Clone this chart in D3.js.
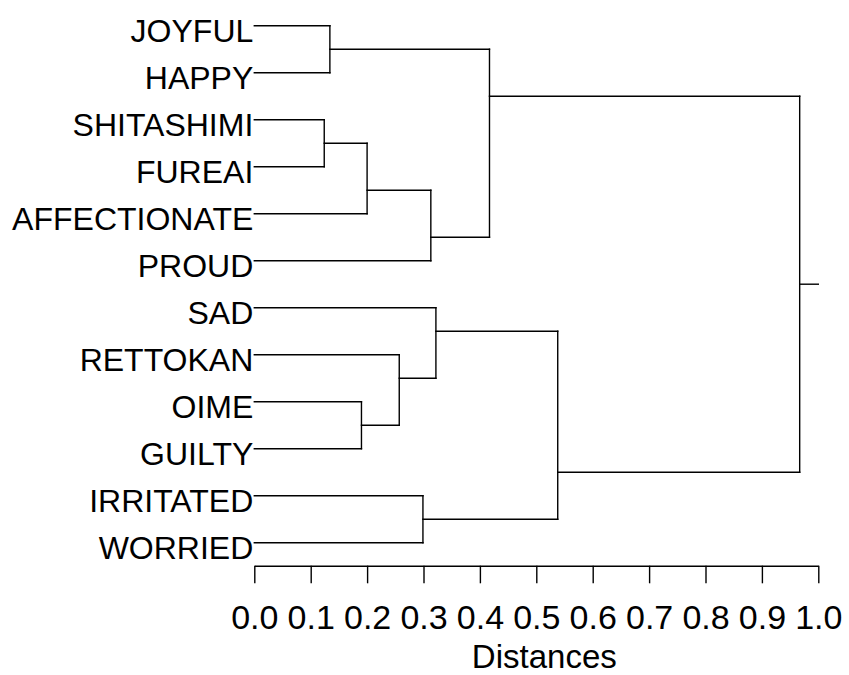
<!DOCTYPE html>
<html>
<head>
<meta charset="utf-8">
<script src="https://cdn.jsdelivr.net/npm/d3@7"></script>
<style>
  html, body { margin: 0; padding: 0; background: #fff; }
  svg { display: block; }
  text { font-family: "Liberation Sans", Arial, Helvetica, sans-serif; fill: #000; }
</style>
</head>
<body>
<svg id="chart" width="849" height="675"></svg>
<script>
// ---- Data ----
const leaves = ["JOYFUL", "HAPPY", "SHITASHIMI", "FUREAI", "AFFECTIONATE", "PROUD",
                "SAD", "RETTOKAN", "OIME", "GUILTY", "IRRITATED", "WORRIED"];
// merge steps (R hclust style): negative = leaf index (1-based), positive = earlier merge (1-based)
const mergeLeft  = [-3, -1, -9, 1, -8, -11, 4, -7, 2, 8, 9];
const mergeRight = [-4, -2, -10, -5, 3, -12, -6, 5, 7, 6, 10];
const mergeHeight = [0.124, 0.134, 0.190, 0.200, 0.257, 0.299, 0.313, 0.322, 0.417, 0.538, 0.967];
const tickValues = [0.0, 0.1, 0.2, 0.3, 0.4, 0.5, 0.6, 0.7, 0.8, 0.9, 1.0];
const axisTitle = "Distances";

// ---- Layout ----
const svg = d3.select("#chart");
const x = d3.scaleLinear().domain([0, 1]).range([254.3, 818.3]);
const y = d3.scalePoint().domain(leaves).range([25.7, 542.7]);
const axisY = 565.7;
const lineW = 1.4;

function nodeOf(ref) {
  if (ref < 0) {
    const name = leaves[-ref - 1];
    return { leaf: true, name, h: 0, yStem: y(name), first: y(name), last: y(name) };
  }
  return built[ref - 1];
}
const built = [];
mergeLeft.forEach((l, i) => {
  const a = nodeOf(l), b = nodeOf(mergeRight[i]);
  const top = a.first < b.first ? a : b;
  const bot = top === a ? b : a;
  built.push({
    leaf: false, h: mergeHeight[i], children: [top, bot],
    first: top.first, last: bot.last,
    yStem: (top.last + bot.first) / 2
  });
});
const root = built[built.length - 1];

const g = svg.append("g")
  .attr("fill", "none").attr("stroke", "#000").attr("stroke-width", lineW)
  .attr("stroke-linecap", "square");

function drawNode(n) {
  if (n.leaf) return;
  const [c1, c2] = n.children;
  g.append("line")
    .attr("x1", x(n.h)).attr("x2", x(n.h))
    .attr("y1", c1.yStem).attr("y2", c2.yStem);
  [c1, c2].forEach(c => {
    g.append("line")
      .attr("x1", x(c.h)).attr("x2", x(n.h))
      .attr("y1", c.yStem).attr("y2", c.yStem);
    drawNode(c);
  });
}
drawNode(root);
g.append("line")
  .attr("x1", x(root.h)).attr("x2", x(1))
  .attr("y1", root.yStem).attr("y2", root.yStem);

// Leaf labels
svg.append("g").selectAll("text").data(leaves).join("text")
  .attr("x", x(0) - 1)
  .attr("y", d => y(d) + 16)
  .attr("text-anchor", "end")
  .attr("font-size", 32)
  .text(d => d);

// Axis
const axis = d3.axisBottom(x)
  .tickValues(tickValues)
  .tickFormat(d3.format(".1f"))
  .tickSize(17.6)
  .tickSizeOuter(0);
const ax = svg.append("g").attr("transform", `translate(0,${axisY})`).call(axis);
ax.select(".domain").attr("stroke", "#000").attr("stroke-width", lineW);
ax.selectAll(".tick line").attr("stroke", "#000").attr("stroke-width", lineW);
ax.selectAll(".tick text")
  .attr("y", 629 - axisY).attr("dy", null)
  .attr("font-size", 34)
  .attr("font-family", "Liberation Sans, Arial, sans-serif")
  .attr("fill", "#000");

svg.append("text")
  .attr("x", x(0.5) + 8)
  .attr("y", 668)
  .attr("text-anchor", "middle")
  .attr("font-size", 33)
  .text(axisTitle);
</script>
</body>
</html>
